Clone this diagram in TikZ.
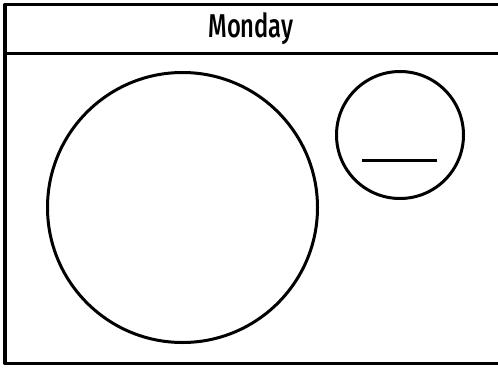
\documentclass[tikz,border=0pt]{standalone}
\usepackage{fontspec}
\newfontfamily\dayfont[FakeStretch=0.72]{Fira Sans Medium}
\begin{document}
\begin{tikzpicture}[x=1pt, y=-1pt, line cap=round, line join=round]
			% Define window bounds
			\def\xmin{0} \def\xmax{498}
			\def\ymin{0} \def\ymax{367}
			\useasboundingbox (\xmin,\ymin) rectangle (\xmax,\ymax);
			
			% Frame and header band
			\draw[line width=3.6pt, line cap=butt] (500,4.5) -- (5,4.5) -- (5,363.5) -- (500,363.5);
			\draw[line width=3.6pt, line cap=butt] (5,53.5) -- (500,53.5);
			
			% Header text
			\node (day) at (251,29) {\dayfont\fontsize{33}{33}\selectfont Monday};
			
			% Large circle on the left
			\node[draw, circle, line width=3pt, minimum size=270pt, inner sep=0pt] (big) at (182.5,207.5) {};
			
			% Small circle with a bar inside
			\node[draw, circle, line width=3pt, minimum size=127pt, inner sep=0pt] (small) at (400,135) {};
			\coordinate (barL) at (362,160.5);
			\coordinate (barR) at (437,160.5);
			\draw[line width=3pt, line cap=butt] (barL) -- (barR);
		\end{tikzpicture}
\end{document}
